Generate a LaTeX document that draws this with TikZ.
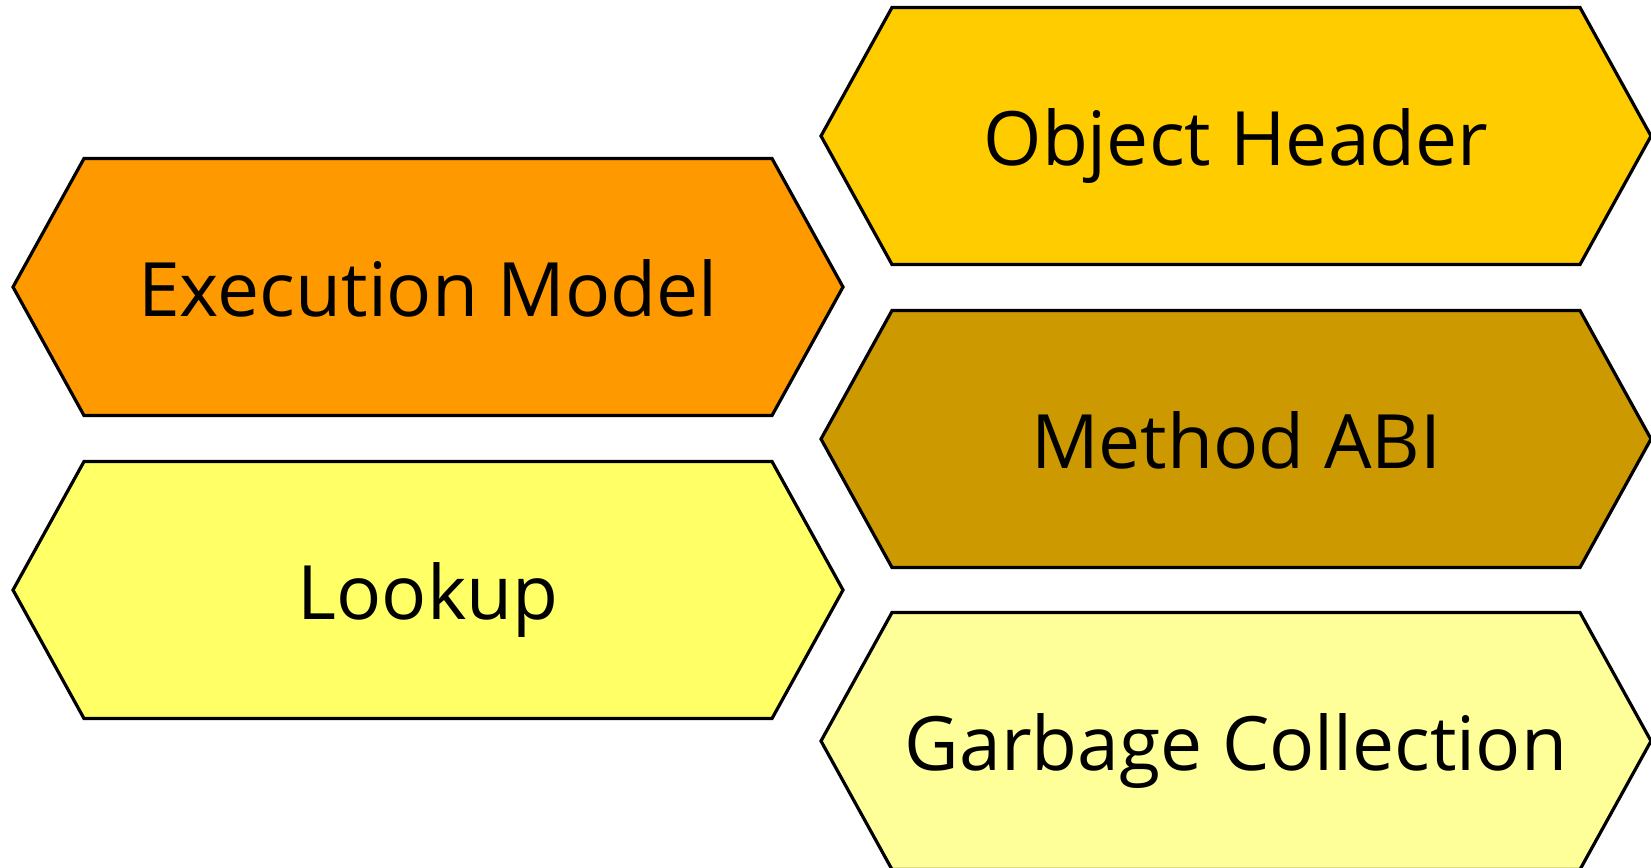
\documentclass[tikz,border=0pt]{standalone}
\usepackage{fontspec}
\setmainfont{Open Sans}
\newcommand\hexpanel[5]{% centre x, centre y, fill, name, label
  \filldraw[hexbox, fill=#3]
    (#1-415,#2) -- (#1-344,#2-128.5) -- (#1+344,#2-128.5) --
    (#1+415,#2) -- (#1+344,#2+128.5) -- (#1-344,#2+128.5) -- cycle;
  \node[hexlabel] (#4) at (#1,#2+29.5) {#5};}
\definecolor{execorange}{HTML}{FF9900}
\definecolor{headeryellow}{HTML}{FFCC00}
\definecolor{abigold}{HTML}{CC9900}
\definecolor{lookupyellow}{HTML}{FFFF66}
\definecolor{gcyellow}{HTML}{FFFF99}
\begin{document}
\begin{tikzpicture}[x=1pt,y=-1pt,
  hexbox/.style={draw=black, line width=3.2pt, line join=miter},
  hexlabel/.style={anchor=base, inner sep=0pt, text=black,
                   font=\fontsize{75}{90}\selectfont}]
\useasboundingbox (0,0) rectangle (1651,867);
% left column
\hexpanel{428}{287}{execorange}{exec}{Execution Model}
\hexpanel{428}{590}{lookupyellow}{lookup}{Lookup}
% right column
\hexpanel{1236}{136}{headeryellow}{header}{Object Header}
\hexpanel{1236}{439}{abigold}{abi}{Method ABI}
\hexpanel{1236}{741}{gcyellow}{gc}{Garbage Collection}
\end{tikzpicture}
\end{document}
